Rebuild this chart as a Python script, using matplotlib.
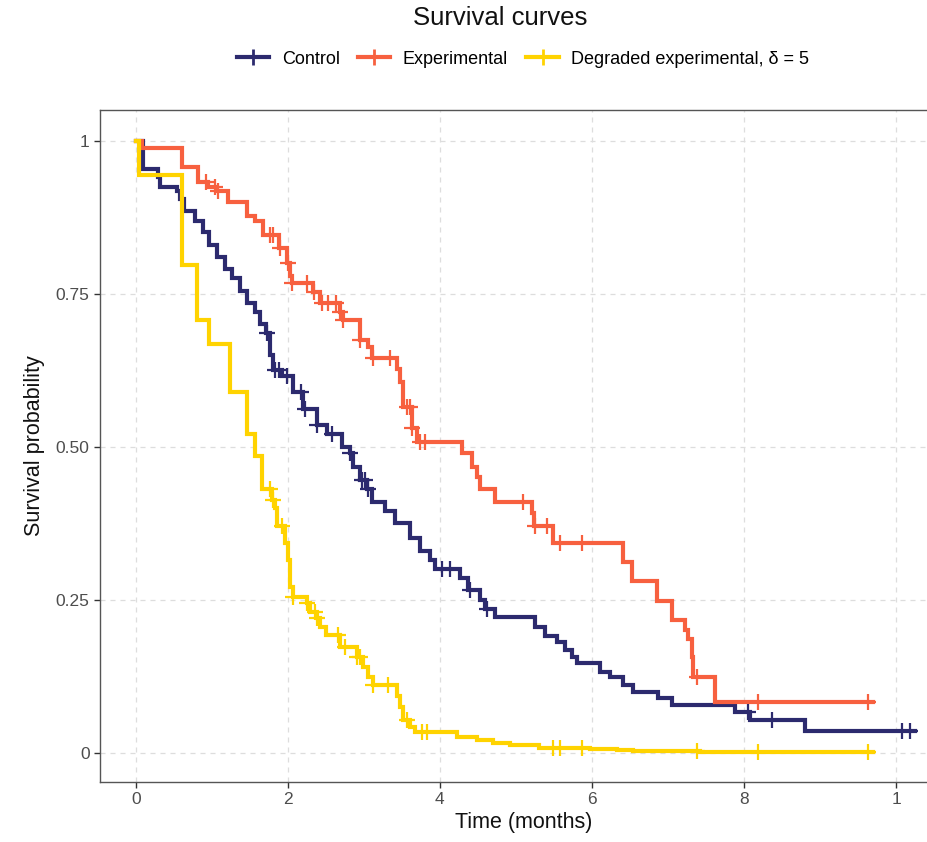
"""
Survival curves - Kaplan-Meier style step curves (control / experimental / degraded)
"""
import numpy as np
import matplotlib
matplotlib.use("Agg")
import matplotlib.pyplot as plt
from matplotlib.lines import Line2D

plt.rcParams["font.family"] = ["Liberation Sans", "DejaVu Sans"]

# ---- data ----
ctrl_t = [0.0, 0.09, 0.29, 0.32, 0.54, 0.58, 0.64, 0.78, 0.88, 0.97, 1.07, 1.17,
          1.26, 1.37, 1.46, 1.57, 1.63, 1.71, 1.76, 1.80, 1.93, 2.07, 2.20, 2.38,
          2.51, 2.71, 2.82, 2.86, 2.95, 3.04, 3.11, 3.28, 3.41, 3.61, 3.74, 3.87,
          3.93, 4.26, 4.37, 4.53, 4.59, 4.72, 5.25, 5.38, 5.54, 5.64, 5.74, 5.80,
          6.11, 6.24, 6.41, 6.54, 6.87, 7.05, 7.88, 8.08, 8.80]
ctrl_s = [1.0, 0.953, 0.94, 0.925, 0.917, 0.904, 0.885, 0.868, 0.85, 0.83, 0.81, 0.79,
          0.775, 0.755, 0.735, 0.72, 0.70, 0.685, 0.65, 0.625, 0.615, 0.59, 0.562, 0.535,
          0.52, 0.50, 0.49, 0.467, 0.445, 0.43, 0.41, 0.395, 0.375, 0.35, 0.33, 0.315,
          0.30, 0.285, 0.265, 0.25, 0.235, 0.222, 0.205, 0.19, 0.18, 0.168, 0.157, 0.147,
          0.132, 0.123, 0.111, 0.099, 0.09, 0.078, 0.067, 0.054, 0.035]
ctrl_end = 10.25
ctrl_cens = [1.72, 1.83, 1.89, 1.99, 2.18, 2.22, 2.38, 2.58, 2.82, 2.97, 3.01, 3.05,
             4.03, 4.13, 4.39, 4.62, 8.05, 8.37, 10.08, 10.18]

exp_t = [0.0, 0.08, 0.61, 0.82, 0.95, 1.07, 1.21, 1.46, 1.57, 1.67, 1.89, 1.99,
         2.03, 2.05, 2.33, 2.42, 2.68, 2.72, 2.95, 3.05, 3.11, 3.43, 3.47, 3.51,
         3.63, 3.70, 4.29, 4.42, 4.49, 4.53, 4.72, 5.21, 5.24, 5.49, 6.41, 6.53,
         6.86, 7.05, 7.22, 7.26, 7.32, 7.33, 7.62]
exp_s = [1.0, 0.988, 0.957, 0.933, 0.925, 0.917, 0.90, 0.876, 0.868, 0.846, 0.825, 0.80,
         0.778, 0.768, 0.752, 0.735, 0.72, 0.707, 0.675, 0.663, 0.645, 0.626, 0.605, 0.565,
         0.531, 0.507, 0.49, 0.467, 0.45, 0.43, 0.41, 0.392, 0.37, 0.343, 0.312, 0.28,
         0.247, 0.217, 0.20, 0.185, 0.157, 0.124, 0.083]
exp_end = 9.70
exp_cens = [0.93, 1.04, 1.08, 1.76, 1.80, 1.90, 2.00, 2.06, 2.25, 2.34, 2.45, 2.53,
            2.64, 2.69, 2.73, 2.95, 3.12, 3.34, 3.57, 3.61, 3.64, 3.74, 3.80, 5.09,
            5.25, 5.41, 5.58, 5.87, 7.38, 8.18, 9.63]

deg_t = [0.0, 0.04, 0.61, 0.80, 0.97, 1.24, 1.46, 1.57, 1.66, 1.79, 1.83, 1.86,
         1.96, 2.00, 2.03, 2.07, 2.25, 2.29, 2.38, 2.42, 2.50, 2.68, 2.91, 2.99,
         3.05, 3.12, 3.43, 3.47, 3.51, 3.61, 3.67, 4.22, 4.49, 4.70, 4.92, 5.31,
         5.97, 6.33, 6.54, 7.42]
deg_s = [1.0, 0.944, 0.797, 0.707, 0.667, 0.59, 0.52, 0.484, 0.43, 0.413, 0.40, 0.37,
         0.343, 0.315, 0.271, 0.255, 0.245, 0.23, 0.22, 0.206, 0.193, 0.173, 0.157, 0.14,
         0.124, 0.111, 0.092, 0.074, 0.054, 0.042, 0.034, 0.026, 0.021, 0.016, 0.012, 0.008,
         0.006, 0.004, 0.002, 0.001]
deg_end = 9.70
deg_cens = [1.76, 1.80, 1.93, 2.07, 2.25, 2.36, 2.39, 2.66, 2.75, 2.91, 2.95, 3.12,
            3.32, 3.57, 3.76, 3.83, 5.49, 5.58, 5.87, 7.38, 8.18, 9.63]

series = ["Control", "Experimental", "Degraded experimental, δ = 5"]
x_ticks = [0, 2, 4, 6, 8, 10]
x_labels = ["0", "2", "4", "6", "8", "1"]
y_ticks = [0, 0.25, 0.5, 0.75, 1]
y_labels = ["0", "0.25", "0.50", "0.75", "1"]

C_CTRL = "#2C2A6E"
C_EXP = "#F7603F"
C_DEG = "#FFD300"

fig = plt.figure(figsize=(9.28, 8.42), dpi=100)
ax = fig.add_axes([100 / 928, 60 / 842, 847 / 928, 672 / 842])


def step_value(t, s, q):
    idx = np.searchsorted(np.asarray(t), np.asarray(q), side="right") - 1
    return np.asarray(s)[idx]


curves = [(ctrl_t, ctrl_s, ctrl_end, ctrl_cens, C_CTRL),
          (exp_t, exp_s, exp_end, exp_cens, C_EXP),
          (deg_t, deg_s, deg_end, deg_cens, C_DEG)]

for t, s, end, cens, col in curves:
    xs = list(t) + [end]
    ys = list(s) + [s[-1]]
    ax.step(xs, ys, where="post", color=col, lw=3.0, solid_joinstyle="miter", zorder=3)
    ax.plot(cens, step_value(t, s, cens), ls="none", marker="+", ms=11, mew=1.6,
            color=col, zorder=4)

ax.set_xlim(-0.47, 10.67)
ax.set_ylim(-0.048, 1.05)
ax.set_xticks(x_ticks)
ax.set_xticklabels(x_labels)
ax.set_yticks(y_ticks)
ax.set_yticklabels(y_labels)
ax.grid(True, ls=(0, (4, 4)), color="#DDDDDD", lw=0.9)
ax.set_axisbelow(True)
for sp in ax.spines.values():
    sp.set_color("#555555")
    sp.set_linewidth(1.0)
ax.tick_params(colors="#333333", labelcolor="#4D4D4D", labelsize=12.5, length=4, width=1)
ax.set_xlabel("Time (months)", fontsize=15.5, color="#111111", labelpad=3)
ax.set_ylabel("Survival probability", fontsize=15.5, color="#111111", labelpad=8)

fig.text(500 / 928, 1 - 18 / 842, "Survival curves", ha="center", va="center",
         fontsize=18.5, color="#111111")

handles = [Line2D([], [], color=c, lw=3, marker="+", ms=12, mew=2)
           for c in (C_CTRL, C_EXP, C_DEG)]
fig.legend(handles, series, loc="center", bbox_to_anchor=(523 / 928, 1 - 59 / 842),
           ncol=3, frameon=False, fontsize=13, handlelength=1.8, handletextpad=0.7,
           columnspacing=1.0, numpoints=1)

fig.savefig("out.png", dpi=100)
